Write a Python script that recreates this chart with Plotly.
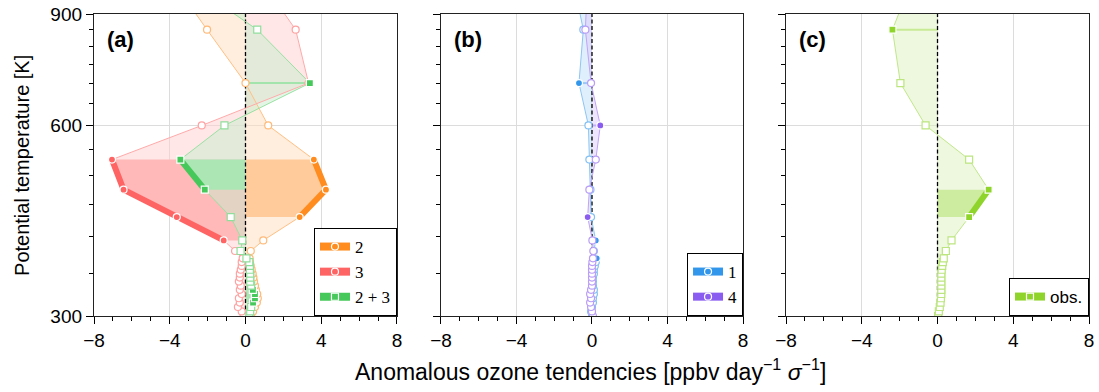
import plotly.graph_objects as go
from plotly.subplots import make_subplots
import math

# ---------------- data ----------------
theta = [300, 305, 310, 315, 320, 325, 330, 335, 340, 345, 350, 355, 360, 365, 370,
         380, 395, 430, 475, 530, 600, 700, 850, 1000]

# panel (a)
s2 = [0.30, 0.40, 0.50, 0.60, 0.65, 0.62, 0.55, 0.50, 0.45, 0.42, 0.38, 0.33, 0.28, 0.24, 0.22,
      0.28, 0.94, 2.86, 4.25, 3.61, 1.20, 0.00, -2.03, -3.70]
s2_sig = [430, 475, 530]
s3 = [-0.10, -0.20, -0.40, -0.30, -0.35, -0.20, -0.30, -0.25, -0.35, -0.30, -0.30, -0.25, -0.20, -0.20, -0.15,
      -0.55, -1.15, -3.63, -6.44, -7.05, -2.31, 3.33, 2.65, 1.00]
s3_sig = [395, 430, 475, 530]
s23 = [0.20, 0.25, 0.30, 0.40, 0.50, 0.50, 0.39, 0.30, 0.25, 0.25, 0.25, 0.23, 0.23, 0.20, 0.05,
       -0.26, -0.17, -0.78, -2.15, -3.44, -1.11, 3.40, 0.62, -2.80]
s23_sig = [315, 320, 325, 330, 475, 530, 700]

# panel (b)
s1 = [0.00, -0.05, 0.00, 0.05, 0.05, 0.10, 0.10, 0.05, 0.05, 0.05, 0.10, 0.10, 0.15, 0.20, 0.25,
      0.10, 0.20, -0.05, -0.08, -0.14, -0.19, -0.69, -0.46, -0.95]
s1_sig = [370, 395, 700]
s4 = [0.05, 0.00, -0.05, -0.10, -0.05, -0.10, -0.05, 0.00, 0.00, 0.00, 0.00, 0.00, 0.00, 0.02, 0.05,
      0.07, 0.02, -0.23, -0.14, 0.20, 0.44, -0.05, -0.35, -0.25]
s4_sig = [430, 600]

# panel (c)
obs = [0.03, 0.07, 0.12, 0.16, 0.18, 0.20, 0.20, 0.20, 0.20, 0.20, 0.20, 0.22, 0.25, 0.28, 0.33,
       0.44, 0.74, 1.67, 2.70, 1.67, -0.63, -1.96, -2.38, -1.45]
obs_sig = [430, 475, 850]

x_ticks = [-8, -4, 0, 4, 8]
y_ticks = [300, 600, 900]
y_minor = [350, 400, 450, 500, 550, 650, 700, 750, 800, 850]
y_lim = [300, 900]

# ---------------- style ----------------
COL = {
    "2": (255, 140, 31),
    "3": (255, 100, 100),
    "2+3": (70, 200, 90),
    "1": (50, 150, 235),
    "4": (138, 92, 240),
    "obs": (143, 212, 42),
}


def rgba(c, a):
    return "rgba(%d,%d,%d,%.3f)" % (c[0], c[1], c[2], a)


def tint(c, f, a=1.0):
    return rgba(tuple(round(f * v + (1 - f) * 255) for v in c), a)


def runs(sig):
    idx = [i for i, t in enumerate(theta) if t in sig]
    out, cur = [], []
    for i in idx:
        if cur and i == cur[-1] + 1:
            cur.append(i)
        else:
            if cur:
                out.append(cur)
            cur = [i]
    if cur:
        out.append(cur)
    return out


fig = make_subplots(rows=1, cols=3, shared_yaxes=True)

panels = [
    (1, [(s2, s2_sig, "2", "circle", "2", "legend"),
         (s3, s3_sig, "3", "circle", "3", "legend"),
         (s23, s23_sig, "2+3", "square", "2 + 3", "legend")]),
    (2, [(s1, s1_sig, "1", "circle", "1", "legend2"),
         (s4, s4_sig, "4", "circle", "4", "legend2")]),
    (3, [(obs, obs_sig, "obs", "square", "obs.", "legend3")]),
]

for col, series in panels:
    fills, thin, thick, marks, legs = [], [], [], [], []
    for vals, sig, key, sym, name, leg in series:
        c = COL[key]
        fills.append(go.Scatter(
            x=vals + [0, 0], y=theta + [theta[-1], theta[0]],
            mode="lines", fill="toself", fillcolor=tint(c, 0.3, 0.5),
            line=dict(width=0), hoverinfo="skip", showlegend=False))
        for r in runs(sig):
            if len(r) == 1:
                i = r[0]
                fills.append(go.Scatter(
                    x=[0, vals[i]], y=[theta[i], theta[i]], mode="lines",
                    line=dict(color=tint(c, 0.5), width=2),
                    hoverinfo="skip", showlegend=False))
            else:
                fills.append(go.Scatter(
                    x=[0] + [vals[i] for i in r] + [0],
                    y=[theta[r[0]]] + [theta[i] for i in r] + [theta[r[-1]]],
                    mode="lines", fill="toself", fillcolor=tint(c, 0.45),
                    line=dict(width=0), hoverinfo="skip", showlegend=False))
                thick.append(go.Scatter(
                    x=[vals[i] for i in r], y=[theta[i] for i in r], mode="lines",
                    line=dict(color=rgba(c, 1), width=6),
                    hoverinfo="skip", showlegend=False))
        is_sig = [t in sig for t in theta]
        thin.append(go.Scatter(
            x=vals, y=theta, mode="lines",
            line=dict(color=tint(c, 0.55), width=1),
            showlegend=False, hoverinfo="skip"))
        marks.append(go.Scatter(
            x=vals, y=theta, mode="markers",
            marker=dict(symbol=sym, size=7,
                        color=[rgba(c, 1) if s else "white" for s in is_sig],
                        line=dict(color=["white" if s else tint(c, 0.6) for s in is_sig], width=1.2)),
            showlegend=False, hoverinfo="skip"))
        legs.append(go.Scatter(
            x=[None], y=[None], mode="lines+markers", name=name, legend=leg,
            line=dict(color=rgba(c, 1), width=8),
            marker=dict(symbol=sym, size=7, color=rgba(c, 1), line=dict(color="white", width=1.2))))
    for tr in fills:
        fig.add_trace(tr, row=1, col=col)
    fig.add_trace(go.Scatter(x=[0, 0], y=y_lim, mode="lines",
                             line=dict(color="black", width=1.3, dash="4px,2.5px"),
                             hoverinfo="skip", showlegend=False), row=1, col=col)
    for tr in thin + thick + marks + legs:
        fig.add_trace(tr, row=1, col=col)

domains = [[0, 0.3045], [0.3487, 0.6523], [0.6955, 1.0]]
axis_font = dict(family="Liberation Sans", size=19, color="black")
for k in range(3):
    sfx = "" if k == 0 else str(k + 1)
    fig.layout["xaxis" + sfx].update(
        domain=domains[k], range=[-8, 8], tickmode="array", tickvals=x_ticks,
        ticktext=["\u2212" + str(-v) if v < 0 else str(v) for v in x_ticks],
        ticks="outside", ticklen=7, tickwidth=1.2, tickcolor="black", automargin=False,
        ticklabeloverflow="allow",
        minor=dict(dtick=1, tick0=0, ticks="outside", ticklen=4, tickwidth=1, tickcolor="black", showgrid=False),
        showgrid=True, gridcolor="#dcdcdc", gridwidth=1, zeroline=False,
        showline=True, mirror=True, linecolor="#222", linewidth=1.3, tickfont=axis_font)
    fig.layout["yaxis" + sfx].update(
        type="log", range=[math.log10(y_lim[0]), math.log10(y_lim[1])],
        tickmode="array", tickvals=y_ticks, ticktext=[str(v) for v in y_ticks],
        ticks="outside", ticklen=7, tickwidth=1.2, tickcolor="black", automargin=False,
        ticklabeloverflow="allow",
        minor=dict(tickmode="array", tickvals=y_minor, ticks="outside", ticklen=4, tickwidth=1,
                   tickcolor="black", showgrid=False),
        showgrid=True, gridcolor="#dcdcdc", gridwidth=1, zeroline=False,
        showline=True, mirror=True, linecolor="#222", linewidth=1.3, tickfont=axis_font)

leg_common = dict(yanchor="bottom", y=0, xanchor="right", bgcolor="white",
                  bordercolor="black", borderwidth=1, tracegroupgap=0, itemwidth=30)
fig.update_layout(
    legend=dict(x=domains[0][1], font=dict(family="Liberation Serif", size=17, color="black"), **leg_common),
    legend2=dict(x=domains[1][1], font=dict(family="Liberation Serif", size=17, color="black"), **leg_common),
    legend3=dict(x=domains[2][1], font=dict(family="Liberation Sans", size=17, color="black"), **leg_common),
)

labels = ["(a)", "(b)", "(c)"]
for k, lab in enumerate(labels):
    sfx = "" if k == 0 else str(k + 1)
    fig.add_annotation(text="<b>%s</b>" % lab, x=0.035, y=0.915, xref="x%s domain" % sfx,
                       yref="y%s domain" % sfx, xanchor="left", yanchor="middle", showarrow=False,
                       font=dict(family="Liberation Sans", size=22, color="black"))

fig.add_annotation(text="Anomalous ozone tendencies [ppbv day<sup>\u22121</sup> <i>\u03c3</i><sup>\u22121</sup>]",
                   x=0.4985, y=-0.179, xref="paper", yref="paper", xanchor="center", yanchor="middle",
                   showarrow=False, font=dict(family="Liberation Sans", size=23, color="black"))
fig.add_annotation(text="Potential temperature [K]", textangle=-90,
                   x=-0.0724, y=0.5, xref="paper", yref="paper", xanchor="center", yanchor="middle",
                   showarrow=False, font=dict(family="Liberation Sans", size=20, color="black"))

fig.update_layout(width=1099, height=392, margin=dict(l=94, r=10, t=14, b=76),
                  plot_bgcolor="white", paper_bgcolor="white")

# remove the default 8 px page margin so the figure fills the window exactly
fig.write_html("out.html", config={"displayModeBar": False},
               post_script="document.body.style.margin='0';")
